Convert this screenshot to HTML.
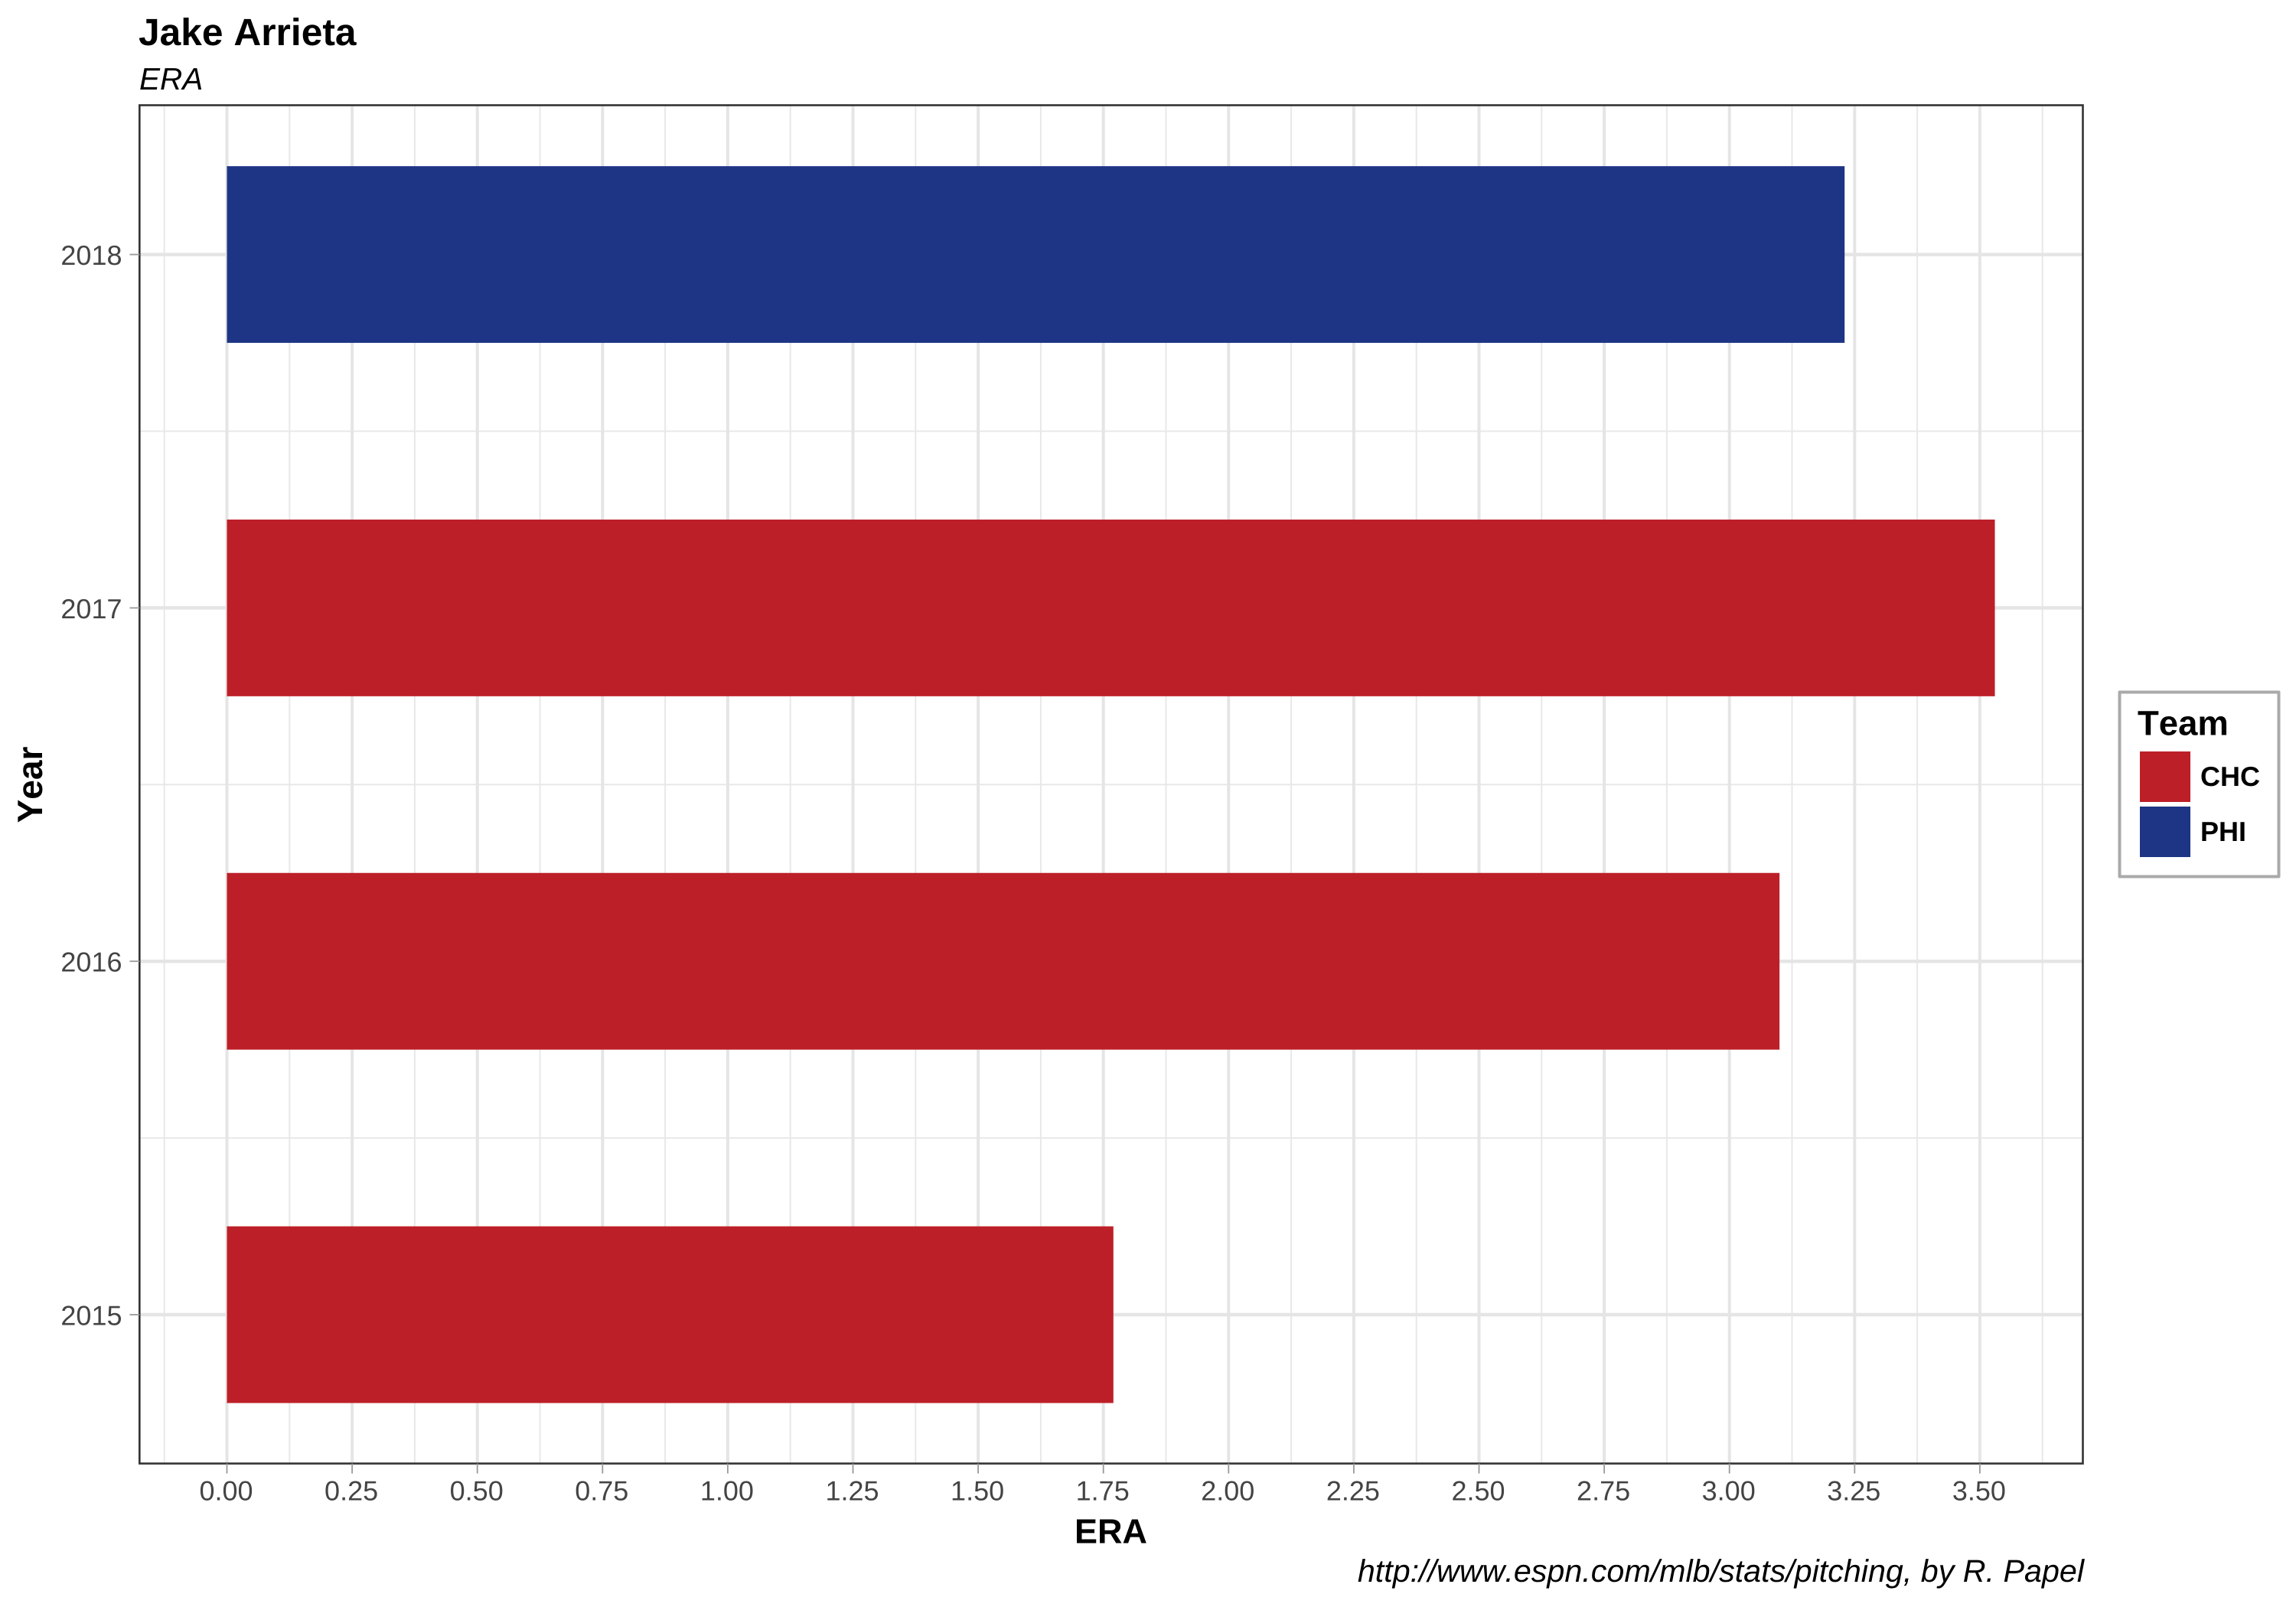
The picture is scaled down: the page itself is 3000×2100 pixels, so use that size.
<!DOCTYPE html>
<html lang="en">
<head>
<meta charset="utf-8">
<title>Jake Arrieta ERA</title>
<style>
html,body{margin:0;padding:0;background:#fff;}
svg{display:block;font-family:"Liberation Sans",Arial,sans-serif;font-kerning:none;text-rendering:geometricPrecision;}
</style>
</head>
<body>
<svg id="chart" xmlns="http://www.w3.org/2000/svg" width="3000" height="2100" viewBox="0 0 3000 2100">
  <rect x="0" y="0" width="3000" height="2100" fill="#ffffff"/>
  <text x="181" y="59" font-size="49.7" font-weight="700" fill="#000">Jake Arrieta</text>
  <text x="182" y="117" font-size="40.5" font-style="italic" fill="#000">ERA</text>
  <g id="grid"></g>
  <g id="bars"></g>
  <rect x="182.3" y="137.5" width="2539.2" height="1775" fill="none" stroke="#333333" stroke-width="2.6"/>
  <g id="axes"></g>
  <text x="1451.5" y="2016.5" font-size="45" font-weight="700" text-anchor="middle" fill="#000">ERA</text>
  <text transform="translate(55 1025.5) rotate(-90)" font-size="46" font-weight="700" text-anchor="middle" fill="#000">Year</text>
  <text x="2723" y="2067" font-size="41.25" font-style="italic" text-anchor="end" fill="#000">http://www.espn.com/mlb/stats/pitching, by R. Papel</text>
  <g>
    <rect x="2769.5" y="904.5" width="208" height="241" fill="#fff" stroke="#aaaaaa" stroke-width="4" stroke-linejoin="round"/>
    <text x="2793" y="960.5" font-size="45.5" font-weight="700" fill="#000">Team</text>
    <rect x="2796" y="982" width="66" height="66" fill="#bd1f28"/>
    <text x="2875" y="1027" font-size="36" font-weight="700" fill="#000">CHC</text>
    <rect x="2796" y="1054" width="66" height="66" fill="#1e3585"/>
    <text x="2875" y="1099" font-size="36" font-weight="700" fill="#000">PHI</text>
  </g>
</svg>
<script>
var years = [2015, 2016, 2017, 2018];
var eraValues = [1.77, 3.10, 3.53, 3.23];
var teams = ["CHC", "CHC", "CHC", "PHI"];
var xTickValues = [0, 0.25, 0.5, 0.75, 1, 1.25, 1.5, 1.75, 2, 2.25, 2.5, 2.75, 3, 3.25, 3.5];
var xTickLabels = ["0.00", "0.25", "0.50", "0.75", "1.00", "1.25", "1.50", "1.75", "2.00", "2.25", "2.50", "2.75", "3.00", "3.25", "3.50"];
var yTickValues = [2015, 2016, 2017, 2018];
var yTickLabels = ["2015", "2016", "2017", "2018"];

var SVG_NS = "http://www.w3.org/2000/svg";
var PANEL_LEFT = 182.3, PANEL_RIGHT = 2721.5, PANEL_TOP = 137.5, PANEL_BOTTOM = 1912.5;
var TEAM_COLORS = { CHC: "#bd1f28", PHI: "#1e3585" };
var BAR_THICKNESS = 0.5;

function xScale(v) { return 296.5 + v * 654.4; }
function yScale(v) { return 1718 - (v - 2015) * 461.8; }

function make(tag, parent) {
  var el = document.createElementNS(SVG_NS, tag);
  parent.appendChild(el);
  return el;
}
function setLine(el, x1, y1, x2, y2, color, width) {
  el.setAttribute("x1", x1);
  el.setAttribute("y1", y1);
  el.setAttribute("x2", x2);
  el.setAttribute("y2", y2);
  el.setAttribute("stroke", color);
  el.setAttribute("stroke-width", width);
}

var gridGroup = document.getElementById("grid");
var barGroup = document.getElementById("bars");
var axesGroup = document.getElementById("axes");
var xStep = xTickValues[1] - xTickValues[0];
var yStep = yTickValues[1] - yTickValues[0];

// Minor vertical gridlines: halfway between x ticks, plus one beyond each end
for (var i = -1; i < xTickValues.length; i++) {
  var mv = xTickValues[0] + (i + 0.5) * xStep;
  var mx = xScale(mv);
  var minorV = make("line", gridGroup);
  
  
  setLine(minorV, mx, PANEL_TOP, mx, PANEL_BOTTOM, "#e8e8e8", 2);
}
// Minor horizontal gridlines: halfway between y ticks
for (var j = 0; j < yTickValues.length - 1; j++) {
  var my = yScale(yTickValues[j] + yStep / 2);
  var minorH = make("line", gridGroup);
  
  
  setLine(minorH, PANEL_LEFT, my, PANEL_RIGHT, my, "#e8e8e8", 2);
}
// Major gridlines, axis ticks and tick labels
xTickValues.forEach(function (v, idx) {
  var x = xScale(v);
  var major = make("line", gridGroup);
  
  
  setLine(major, x, PANEL_TOP, x, PANEL_BOTTOM, "#e5e5e5", 4);
  var tick = make("line", axesGroup);
  
  
  setLine(tick, x, PANEL_BOTTOM, x, 1925.5, "#999999", 1.8);
  var label = make("text", axesGroup);
  
  
  label.setAttribute("x", x - 1);
  label.setAttribute("y", 1960.5);
  label.setAttribute("font-size", "36");
  label.setAttribute("text-anchor", "middle");
  label.setAttribute("fill", "#444444");
  label.textContent = xTickLabels[idx];
});
yTickValues.forEach(function (v, idx) {
  var y = yScale(v);
  var major = make("line", gridGroup);
  
  
  setLine(major, PANEL_LEFT, y, PANEL_RIGHT, y, "#e5e5e5", 4.5);
  var tick = make("line", axesGroup);
  
  
  setLine(tick, 169.5, y, PANEL_LEFT, y, "#999999", 1.8);
  var label = make("text", axesGroup);
  
  
  label.setAttribute("x", 159.5);
  label.setAttribute("y", y + 13.5);
  label.setAttribute("font-size", "36");
  label.setAttribute("text-anchor", "end");
  label.setAttribute("fill", "#444444");
  label.textContent = yTickLabels[idx];
});
// Bars
years.forEach(function (year, idx) {
  var bar = make("rect", barGroup);
  
  
  var top = yScale(year + BAR_THICKNESS / 2);
  var bottom = yScale(year - BAR_THICKNESS / 2);
  bar.setAttribute("x", xScale(0));
  bar.setAttribute("y", top);
  bar.setAttribute("width", xScale(eraValues[idx]) - xScale(0));
  bar.setAttribute("height", bottom - top);
  bar.setAttribute("fill", TEAM_COLORS[teams[idx]]);
});
</script>
</body>
</html>
